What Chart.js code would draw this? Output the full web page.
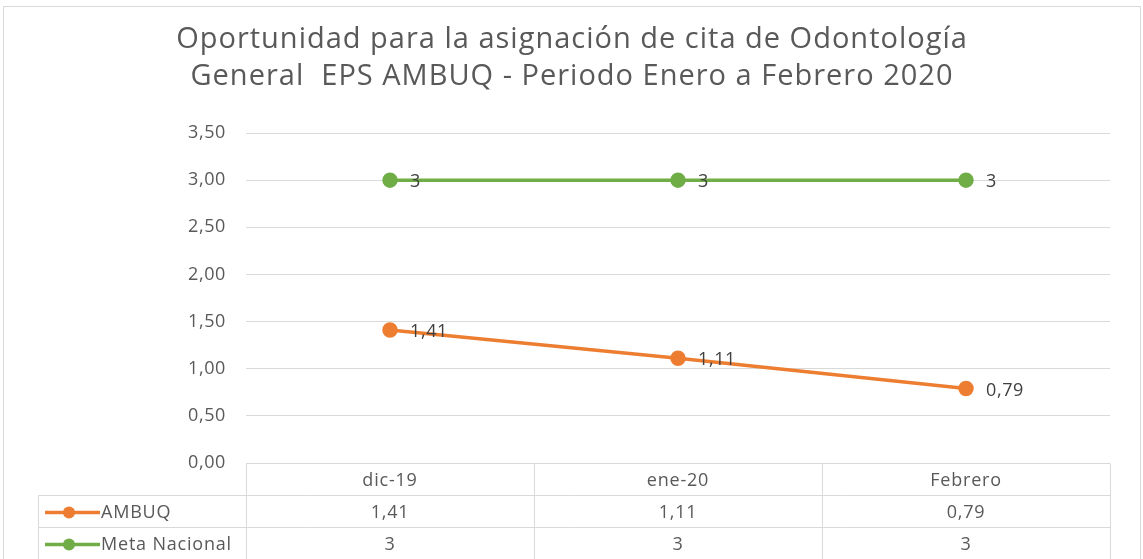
<!DOCTYPE html>
<html>
<head>
<meta charset="utf-8">
<script src="https://cdn.jsdelivr.net/npm/chart.js@4/dist/chart.umd.min.js"></script>
<style>
body{margin:0;background:#fff;}
#caja{position:relative;width:1143px;height:559px;}
</style>
</head>
<body>
<div id="caja"><canvas id="grafica"></canvas></div>
<script>
var titulo = ['Oportunidad para la asignación de cita de Odontología', 'General  EPS AMBUQ - Periodo Enero a Febrero 2020'];
var meses = ['dic-19', 'ene-20', 'Febrero'];
var ambuq = [1.41, 1.11, 0.79];
var metaNacional = [3, 3, 3];
var nombresSeries = ['AMBUQ', 'Meta Nacional'];
var coloresSeries = ['#ED7D31', '#70AD47'];

var fuente = '"Open Sans", "Liberation Sans", sans-serif';
var gris = '#d9d9d9';

function conComa(v, dec){
    var s = dec === undefined ? String(v) : v.toFixed(dec);
    return s.replace('.', ',');
}

// titulo, etiquetas de datos y tabla de datos abajo
var extras = {
    id: 'extras',
    beforeDraw: function(chart){
        var ctx = chart.ctx;
        ctx.letterSpacing = '0.6px'; // se queda para los ticks
        ctx.save();
        ctx.strokeStyle = gris;
        ctx.lineWidth = 1;
        ctx.strokeRect(3.5, 6.5, 1137, 600);
        ctx.fillStyle = '#595959';
        ctx.font = '29px ' + fuente;
        ctx.letterSpacing = '1px';
        ctx.textAlign = 'center';
        ctx.textBaseline = 'middle';
        ctx.fillText(titulo[0], 572, 40);
        ctx.fillText(titulo[1], 572, 77);
        ctx.restore();
    },
    afterDatasetsDraw: function(chart){
        var ctx = chart.ctx;
        ctx.save();
        ctx.fillStyle = '#404040';
        ctx.font = '18px ' + fuente;
        ctx.textAlign = 'left';
        ctx.textBaseline = 'middle';
        chart.data.datasets.forEach(function(ds, i){
            chart.getDatasetMeta(i).data.forEach(function(p, j){
                ctx.fillText(conComa(ds.data[j]), p.x + 20, p.y + 2);
            });
        });
        ctx.restore();
    },
    afterDraw: function(chart){
        var ctx = chart.ctx;
        var area = chart.chartArea;
        var x = chart.scales.x;
        var filaAlto = 32;
        var izqLeyenda = 38.5;
        var y0 = Math.round(area.bottom) + 0.5;
        var ancho = (area.right - area.left) / meses.length;
        ctx.save();
        ctx.strokeStyle = gris;
        ctx.lineWidth = 1;
        ctx.beginPath();
        ctx.moveTo(area.left, y0); ctx.lineTo(area.right, y0);
        for(var r = 1; r <= 2; r++){
            ctx.moveTo(izqLeyenda, y0 + r * filaAlto); ctx.lineTo(area.right, y0 + r * filaAlto);
        }
        for(var c = 0; c <= meses.length; c++){
            var cx = Math.round(area.left + c * ancho) + 0.5;
            ctx.moveTo(cx, y0); ctx.lineTo(cx, y0 + 3 * filaAlto);
        }
        ctx.moveTo(izqLeyenda, y0 + filaAlto); ctx.lineTo(izqLeyenda, y0 + 3 * filaAlto);
        ctx.stroke();

        ctx.fillStyle = '#595959';
        ctx.font = '18px ' + fuente;
        ctx.letterSpacing = '0.8px';
        ctx.textAlign = 'center';
        ctx.textBaseline = 'middle';
        meses.forEach(function(m, i){
            ctx.fillText(m, x.getPixelForValue(i), y0 + filaAlto / 2 + 1);
        });
        chart.data.datasets.forEach(function(ds, k){
            var fy = y0 + (k + 1) * filaAlto + filaAlto / 2 + 1;
            ds.data.forEach(function(v, i){
                ctx.fillText(conComa(v), x.getPixelForValue(i), fy);
            });
            // clave de leyenda
            ctx.strokeStyle = coloresSeries[k];
            ctx.lineWidth = 3.5;
            ctx.beginPath();
            ctx.moveTo(45, fy); ctx.lineTo(100, fy);
            ctx.stroke();
            ctx.beginPath();
            ctx.fillStyle = coloresSeries[k];
            ctx.arc(69, fy, 6, 0, Math.PI * 2);
            ctx.fill();
            ctx.fillStyle = '#595959';
            ctx.textAlign = 'left';
            ctx.fillText(nombresSeries[k], 101, fy);
            ctx.textAlign = 'center';
        });
        ctx.restore();
    }
};

new Chart(document.getElementById('grafica'), {
    type: 'line',
    data: {
        labels: meses,
        datasets: [{
            label: nombresSeries[0],
            data: ambuq,
            borderColor: coloresSeries[0],
            backgroundColor: coloresSeries[0],
            borderWidth: 3.5,
            pointRadius: 6,
            pointHoverRadius: 6,
            fill: false,
            tension: 0
        }, {
            label: nombresSeries[1],
            data: metaNacional,
            borderColor: coloresSeries[1],
            backgroundColor: coloresSeries[1],
            borderWidth: 3.5,
            pointRadius: 6,
            pointHoverRadius: 6,
            fill: false,
            tension: 0
        }]
    },
    options: {
        responsive: true,
        maintainAspectRatio: false,
        animation: false,
        layout: { padding: { left: 0, right: 33, top: 133, bottom: 96 } },
        plugins: {
            legend: { display: false },
            title: { display: false },
            tooltip: { enabled: false }
        },
        scales: {
            x: {
                type: 'category',
                display: false,
                offset: true
            },
            y: {
                min: 0,
                max: 3.5,
                afterFit: function(scale){ scale.width = 246; },
                border: { display: false },
                grid: { color: gris, drawTicks: false, lineWidth: 1 },
                ticks: {
                    stepSize: 0.5,
                    padding: 20,
                    color: '#595959',
                    font: { family: fuente, size: 18 },
                    callback: function(v){ return conComa(v, 2); }
                }
            }
        }
    },
    plugins: [extras]
});
</script>
</body>
</html>
